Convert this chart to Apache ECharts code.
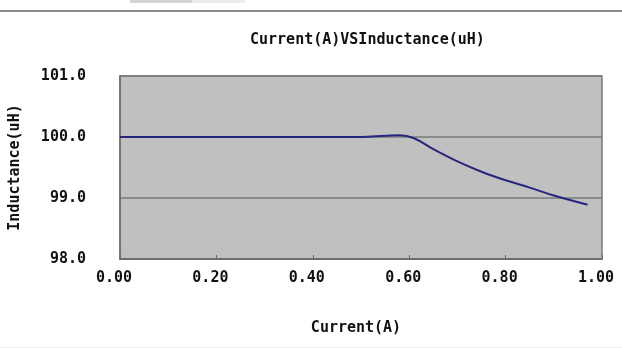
<!DOCTYPE html>
<html>
<head>
<meta charset="utf-8">
<script src="https://cdn.jsdelivr.net/npm/echarts@6/dist/echarts.min.js"></script>
<style>html,body{margin:0;padding:0;background:#fff}#c{width:622px;height:349px}</style>
</head>
<body>
<div id="c"></div>
<script>
const currents = [0, 0.1, 0.2, 0.3, 0.4, 0.5, 0.55, 0.58, 0.61, 0.65, 0.7, 0.75, 0.8, 0.85, 0.9, 0.97];
const inductance = [100, 100, 100, 100, 100, 100, 100.02, 100.03, 99.98, 99.8, 99.6, 99.43, 99.29, 99.17, 99.04, 98.89];
const xTicks = [0, 0.2, 0.4, 0.6, 0.8, 1.0];
const yTicks = [98, 99, 100, 101];
const titleText = 'Current(A)VSInductance(uH)';
const xName = 'Current(A)';
const yName = 'Inductance(uH)';

const FONT = '"DejaVu Sans Mono", "Liberation Mono", monospace';
const chart = echarts.init(document.getElementById('c'));
chart.setOption({
  animation: false,
  backgroundColor: '#ffffff',
  title: {
    text: titleText, left: 245, top: 28,
    textStyle: {fontFamily: FONT, fontSize: 15, fontWeight: 'bold', color: '#111'}
  },
  grid: {
    left: 118, right: 20, top: 76, bottom: 90, show: true,
    backgroundColor: '#c0c0c0', borderColor: '#7a7a7a', borderWidth: 1.5
  },
  xAxis: {
    type: 'value', min: xTicks[0], max: xTicks[xTicks.length - 1], interval: 0.2,
    name: xName, nameLocation: 'middle', nameGap: 62,
    nameTextStyle: {fontFamily: FONT, fontSize: 15, fontWeight: 'bold', color: '#111', padding: [0, 10, 0, 0]},
    axisLine: {show: true, lineStyle: {color: '#6a6a6a', width: 1.5}},
    axisTick: {show: true, inside: true, length: 4, lineStyle: {color: '#6a6a6a'}},
    splitLine: {show: false},
    axisLabel: {fontFamily: FONT, fontSize: 15, fontWeight: 'bold', color: '#111', margin: 12,
      padding: [0, 12, 0, 0],
      formatter: v => v.toFixed(2)}
  },
  yAxis: {
    type: 'value', min: yTicks[0], max: yTicks[yTicks.length - 1], interval: 1,
    name: yName, nameLocation: 'middle', nameGap: 97, nameRotate: 90,
    nameTextStyle: {fontFamily: FONT, fontSize: 15, fontWeight: 'bold', color: '#111'},
    axisLine: {show: true, lineStyle: {color: '#6a6a6a', width: 1.5}},
    axisTick: {show: false},
    splitLine: {show: true, lineStyle: {color: '#7a7a7a', width: 1.5}},
    axisLabel: {fontFamily: FONT, fontSize: 15, fontWeight: 'bold', color: '#111', margin: 34,
      formatter: v => v.toFixed(1)}
  },
  graphic: [
    {type: 'rect', shape: {x: 0, y: 10, width: 622, height: 2}, style: {fill: '#8a8a8a'}},
    {type: 'rect', shape: {x: 130, y: 0, width: 62, height: 3}, style: {fill: '#d4d4d4'}},
    {type: 'rect', shape: {x: 192, y: 0, width: 53, height: 3}, style: {fill: '#ececec'}},
    {type: 'rect', shape: {x: 0, y: 347, width: 622, height: 1}, style: {fill: '#eeeeee'}}
  ],
  series: [{
    type: 'line', smooth: 0.4, symbol: 'none',
    data: currents.map((c, i) => [c, inductance[i]]),
    lineStyle: {color: '#26267f', width: 2}
  }]
});
</script>
</body>
</html>
